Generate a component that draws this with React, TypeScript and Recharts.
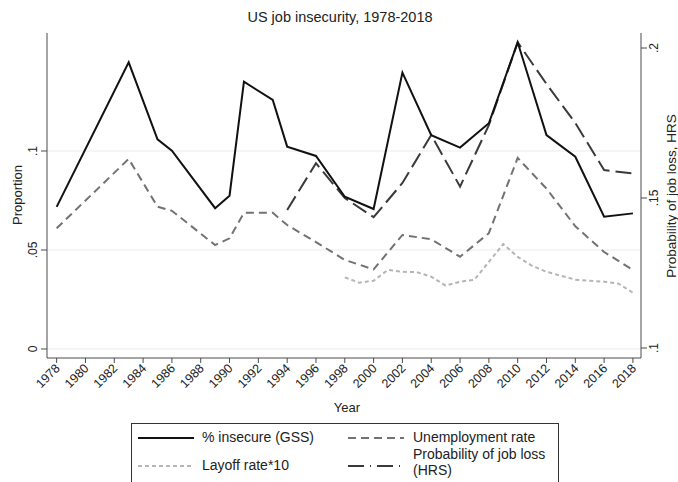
import React from "react";
import { LineChart, Line, XAxis, YAxis, CartesianGrid } from "recharts";

const gssYears = [1978, 1983, 1985, 1986, 1989, 1990, 1991, 1993, 1994, 1996, 1998, 2000, 2002, 2004, 2006, 2008, 2010, 2012, 2014, 2016, 2018];
const gssInsecure = [0.0718, 0.1448, 0.1059, 0.1002, 0.0711, 0.0774, 0.135, 0.1258, 0.1022, 0.0975, 0.0769, 0.0707, 0.1396, 0.108, 0.1017, 0.114, 0.1549, 0.108, 0.0971, 0.0668, 0.0685];
const unemployment = [0.061, 0.096, 0.0719, 0.0698, 0.0525, 0.0559, 0.0688, 0.0688, 0.0626, 0.054, 0.045, 0.0402, 0.0576, 0.0554, 0.0466, 0.0585, 0.0965, 0.081, 0.062, 0.049, 0.0399];

const layoffYears = [1998, 1999, 2000, 2001, 2002, 2003, 2004, 2005, 2006, 2007, 2008, 2009, 2010, 2011, 2012, 2013, 2014, 2015, 2016, 2017, 2018];
const layoffRate10 = [0.0362, 0.0335, 0.0345, 0.040, 0.039, 0.0388, 0.0365, 0.032, 0.034, 0.035, 0.044, 0.053, 0.0465, 0.042, 0.039, 0.037, 0.035, 0.0345, 0.034, 0.033, 0.0284];

const hrsYears = [1994, 1996, 1998, 2000, 2002, 2004, 2006, 2008, 2010, 2012, 2014, 2016, 2018];
const hrsJobLoss = [0.146, 0.1616, 0.150, 0.1436, 0.155, 0.171, 0.1538, 0.1743, 0.2019, 0.188, 0.175, 0.1593, 0.1582];

const xTicks = [1978, 1980, 1982, 1984, 1986, 1988, 1990, 1992, 1994, 1996, 1998, 2000, 2002, 2004, 2006, 2008, 2010, 2012, 2014, 2016, 2018];
const leftTicks = [0, 0.05, 0.1];
const rightTicks = [0.1, 0.15, 0.2];

const allYears = Array.from(new Set([...gssYears, ...layoffYears, ...hrsYears])).sort((a, b) => a - b);
const data = allYears.map((year) => {
  const gi = gssYears.indexOf(year);
  const li = layoffYears.indexOf(year);
  const hi = hrsYears.indexOf(year);
  return {
    year,
    gss: gi >= 0 ? gssInsecure[gi] : null,
    unemp: gi >= 0 ? unemployment[gi] : null,
    layoff: li >= 0 ? layoffRate10[li] : null,
    hrs: hi >= 0 ? hrsJobLoss[hi] : null,
  };
});

const FONT = "'Liberation Sans', Arial, sans-serif";
const AXIS = "#4a4a4a";
const TXT = "#222";

const fmt = (v: number) => (v === 0 ? "0" : String(+v.toFixed(3)).replace(/^0/, ""));

const LeftTick = (props: any) => {
  const { y, payload } = props;
  return (
    <text transform={`translate(37,${y}) rotate(-90)`} textAnchor="middle" fontSize={12} fill={TXT} fontFamily={FONT}>
      {fmt(payload.value)}
    </text>
  );
};

const RightTick = (props: any) => {
  const { y, payload } = props;
  return (
    <text transform={`translate(658,${y}) rotate(-90)`} textAnchor="middle" fontSize={12} fill={TXT} fontFamily={FONT}>
      {fmt(payload.value)}
    </text>
  );
};

const XTick = (props: any) => {
  const { x, payload } = props;
  return (
    <text transform={`translate(${x + 4},${369}) rotate(-45)`} textAnchor="end" fontSize={12.5} fill={TXT} fontFamily={FONT}>
      {payload.value}
    </text>
  );
};

const LegendSample = ({ dash, color, width }: { dash?: string; color: string; width: number }) => (
  <svg width={56} height={8} style={{ display: "block" }}>
    <line x1={0} y1={4} x2={56} y2={4} stroke={color} strokeWidth={width} strokeDasharray={dash} />
  </svg>
);

export default function App() {
  return (
    <div style={{ position: "absolute", left: 0, top: 0, width: 678, height: 482, background: "#fff", overflow: "hidden", fontFamily: FONT }}>
      <LineChart width={678} height={482} data={data} margin={{ top: 33, right: 0, left: 0, bottom: 64 }}>
        <CartesianGrid horizontal={true} vertical={false} stroke="#ebebeb" strokeWidth={1} yAxisId="left" horizontalValues={leftTicks} />
        <XAxis
          dataKey="year"
          type="number"
          domain={[1977.33, 2018.56]}
          ticks={xTicks}
          allowDataOverflow
          height={60}
          stroke={AXIS}
          tickSize={5}
          tick={<XTick />}
          interval={0}
        />
        <YAxis
          yAxisId="left"
          orientation="left"
          width={47}
          domain={[-0.00455, 0.1596]}
          ticks={leftTicks}
          allowDataOverflow
          stroke={AXIS}
          tickSize={6}
          tick={<LeftTick />}
          interval={0}
        />
        <YAxis
          yAxisId="right"
          orientation="right"
          width={37}
          domain={[0.09667, 0.205]}
          ticks={rightTicks}
          allowDataOverflow
          stroke={AXIS}
          tickSize={6}
          tick={<RightTick />}
          interval={0}
        />
        <Line yAxisId="left" dataKey="unemp" stroke="#727272" strokeWidth={2} strokeDasharray="8 5" dot={false} connectNulls isAnimationActive={false} />
        <Line yAxisId="left" dataKey="layoff" stroke="#b5b5b5" strokeWidth={2} strokeDasharray="4 3" dot={false} connectNulls isAnimationActive={false} />
        <Line yAxisId="right" dataKey="hrs" stroke="#3a3a3a" strokeWidth={2} strokeDasharray="16 6" dot={false} connectNulls isAnimationActive={false} />
        <Line yAxisId="left" dataKey="gss" stroke="#111" strokeWidth={2} dot={false} connectNulls isAnimationActive={false} />
        <text x={340} y={22} textAnchor="middle" fontSize={14.5} fill={TXT} fontFamily={FONT}>US job insecurity, 1978-2018</text>
        <text transform="translate(22,195) rotate(-90)" textAnchor="middle" fontSize={13} fill={TXT} fontFamily={FONT}>Proportion</text>
        <text transform="translate(676,196) rotate(-90)" textAnchor="middle" fontSize={13.5} fill={TXT} fontFamily={FONT}>Probability of job loss, HRS</text>
        <text x={347} y={412} textAnchor="middle" fontSize={13} fill={TXT} fontFamily={FONT}>Year</text>
      </LineChart>
      <div
        style={{
          position: "absolute",
          left: 131,
          top: 423,
          width: 428,
          height: 62,
          border: "1px solid #333",
          boxSizing: "border-box",
          fontSize: 14,
          color: TXT,
          lineHeight: "16px",
        }}
      >
        <div style={{ position: "absolute", left: 6, top: 10 }}><LegendSample color="#111" width={2} /></div>
        <div style={{ position: "absolute", left: 70, top: 5 }}>% insecure (GSS)</div>
        <div style={{ position: "absolute", left: 216, top: 10 }}><LegendSample color="#727272" width={2} dash="8 5" /></div>
        <div style={{ position: "absolute", left: 281, top: 5 }}>Unemployment rate</div>
        <div style={{ position: "absolute", left: 6, top: 38 }}><LegendSample color="#b5b5b5" width={2} dash="4 3" /></div>
        <div style={{ position: "absolute", left: 70, top: 33 }}>Layoff rate*10</div>
        <div style={{ position: "absolute", left: 216, top: 38 }}><LegendSample color="#3a3a3a" width={2} dash="16 6 1 6" /></div>
        <div style={{ position: "absolute", left: 281, top: 22 }}>Probability of job loss<br />(HRS)</div>
      </div>
    </div>
  );
}
